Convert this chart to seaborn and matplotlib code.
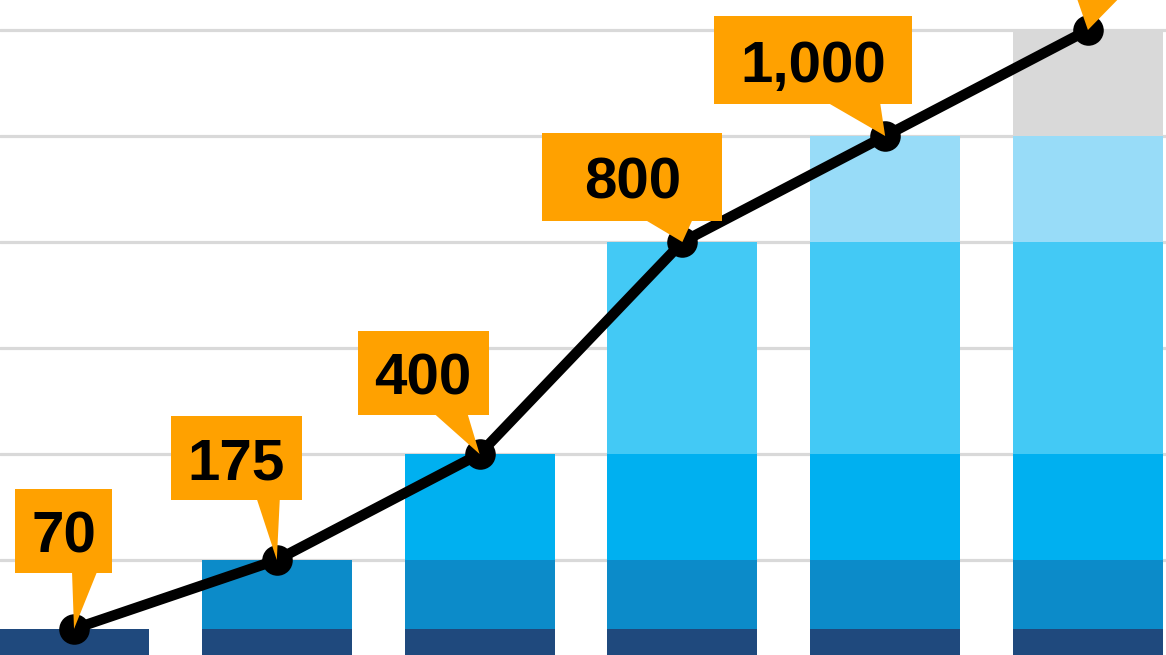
import numpy as np
import matplotlib
matplotlib.use('Agg')
import matplotlib.pyplot as plt
from matplotlib.patches import Polygon, Rectangle
from matplotlib.transforms import IdentityTransform
import seaborn as sns

# chart data
steps = ["Step 1", "Step 2", "Step 3", "Step 4", "Step 5", "Step 6"]
levels = [70, 200, 400, 800, 1000, 1200]
# last callout box sits above the visible area, only its pointer shows
labels = ["70", "175", "400", "800", "1,000", ""]
segment_colors = ["#1f497d", "#0c8bc9", "#00b0f0", "#43c9f5", "#98dcf8", "#d9d9d9"]
callout_color = "#ffa100"

# callout shapes in pixels relative to each point:
# box left, box right, box bottom, box top, pointer base left, base right
callouts = [
    (-59, 38, 56, 140, -2, 23),
    (-106, 25, 60, 144, -20, 3),
    (-122, 9, 39, 123, -45, -12),
    (-140, 40, 21, 109, -37, 10),
    (-171, 27, 32, 120, -57, -5),
    (-150, 60, 45, 130, -16, 45),
]

sns.set_theme(style="white")
plt.rcParams['font.family'] = ['Liberation Sans', 'DejaVu Sans']

fig = plt.figure(figsize=(11.66, 6.55), dpi=100)
ax = fig.add_axes([0, 0, 1, 1])

# stacked bars: draw tallest layer first, cover with lower layers
for k in reversed(range(len(levels))):
    heights = [levels[k] if i >= k else 0 for i in range(len(steps))]
    sns.barplot(x=steps, y=heights, order=steps, color=segment_colors[k],
                saturation=1, width=0.74, linewidth=0, ax=ax, zorder=2)

sns.lineplot(x=steps, y=levels, sort=False, color="black", linewidth=7.5,
             marker="o", markersize=22, markeredgewidth=0, ax=ax, zorder=3)

ax.set_yticks(np.arange(0, 1401, 200))
ax.yaxis.grid(True, color="#d9d9d9", linewidth=2.3)
ax.set_axisbelow(True)
ax.tick_params(left=False, bottom=False, labelleft=False, labelbottom=False)
for s in ax.spines.values():
    s.set_visible(False)
ax.set_xlabel("")
ax.set_ylabel("")
ax.set_xlim(-0.365, 5.385)
ax.set_ylim(20.75, 1256.6)

# orange callouts, drawn in pixel space above the axes
ident = IdentityTransform()
for i, (lab, c) in enumerate(zip(labels, callouts)):
    px, py = ax.transData.transform((i, levels[i]))
    x0, x1, y0, y1, b0, b1 = c
    fig.add_artist(Rectangle((px + x0, py + y0), x1 - x0, y1 - y0,
                             facecolor=callout_color, edgecolor="none",
                             transform=ident, zorder=5))
    fig.add_artist(Polygon([(px + b0, py + y0 + 1), (px + b1, py + y0 + 1), (px, py)],
                           closed=True, facecolor=callout_color, edgecolor="none",
                           transform=ident, zorder=5))
    if lab:
        fig.text(px + (x0 + x1) / 2, py + (y0 + y1) / 2 - 22, lab, transform=ident,
                 ha="center", va="baseline", fontsize=42, fontweight="bold",
                 color="black", zorder=6)

plt.savefig("out.png", dpi=100)
plt.close()
